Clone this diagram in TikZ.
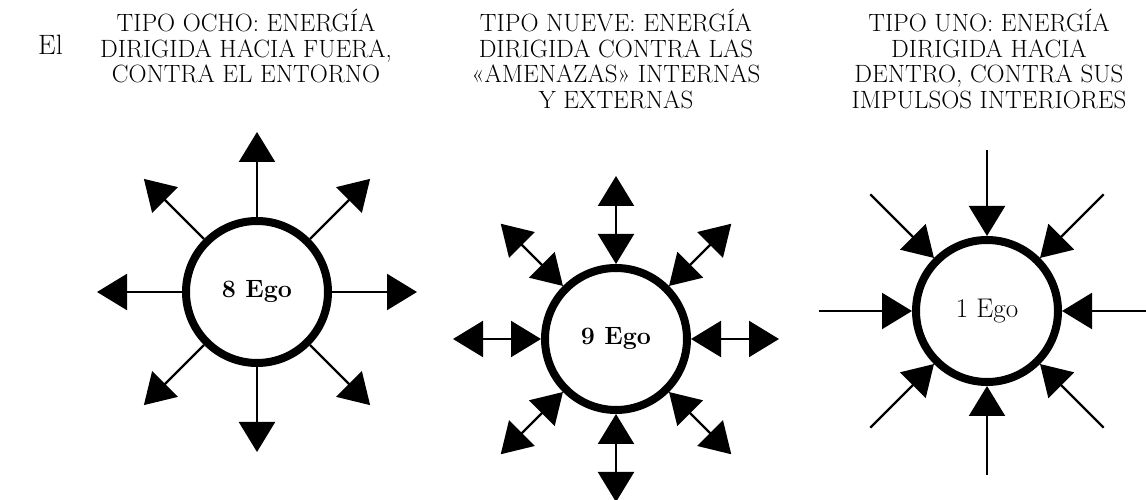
\documentclass[tikz,border=0pt]{standalone}
\usetikzlibrary{arrows.meta,calc}
\begin{document}
\begin{tikzpicture}[x=1pt,y=1pt,
  egocirc/.style={circle, draw, line width=8pt, minimum size=142pt, inner sep=0pt, font=\fontsize{25}{27}\selectfont},
  ray/.style={line width=2.2pt, -{Triangle[length=30pt,width=36pt]}},
  dray/.style={line width=2.2pt, {Triangle[length=30pt,width=36pt]}-{Triangle[length=30pt,width=36pt]}},
  title/.style={align=center, font=\fontsize{25}{25.5}\selectfont, inner sep=0pt, anchor=north}]
\useasboundingbox (0,0) rectangle (1146,500);

\node[anchor=base west, inner sep=0pt, font=\fontsize{28}{30}\selectfont] (el) at (38,445) {El};

\node[title] (t1) at (246,491) {TIPO OCHO: ENERGÍA\\DIRIGIDA HACIA FUERA,\\CONTRA EL ENTORNO};
\node[title] (t2) at (616,491) {TIPO NUEVE: ENERGÍA\\DIRIGIDA CONTRA LAS\\«AMENAZAS» INTERNAS\\Y EXTERNAS};
\node[title] (t3) at (989,491) {TIPO UNO: ENERGÍA\\DIRIGIDA HACIA\\DENTRO, CONTRA SUS\\IMPULSOS INTERIORES};

\node[egocirc] (c1) at (257,208) {\bfseries 8 Ego};
\node[egocirc] (c2) at (616,161) {\bfseries 9 Ego};
\node[egocirc, font=\fontsize{27}{29}\selectfont] (c3) at (987,189) {1 Ego};

\foreach \a in {0,45,...,315} {
  \coordinate (o1-\a) at ($(c1.center)+(\a:160)$);
  \draw[ray] (c1.\a) -- (o1-\a);
  \coordinate (o2-\a) at ($(c2.center)+(\a:163)$);
  \draw[dray] (c2.\a) -- (o2-\a);
}
\foreach \a/\r in {0/159,45/165,90/161,135/165,180/168,225/165,270/164,315/165} {
  \coordinate (i3-\a) at ($(c3.center)+(\a:\r)$);
  \draw[ray] (i3-\a) -- (c3.\a);
}
\end{tikzpicture}
\end{document}
